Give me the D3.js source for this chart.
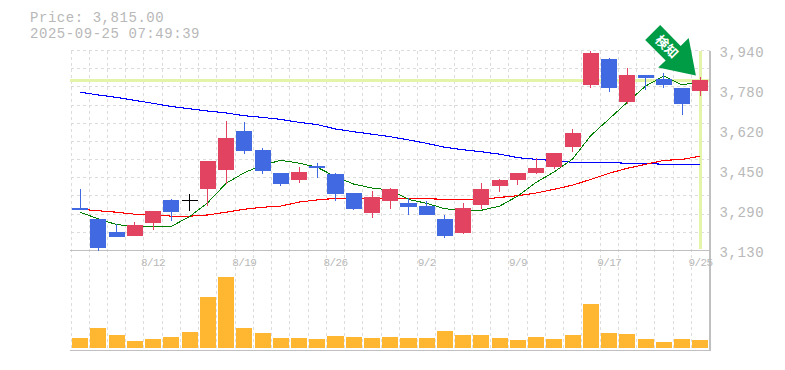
<!DOCTYPE html>
<html>
<head>
<meta charset="utf-8">
<script src="https://d3js.org/d3.v7.min.js"></script>
<style>
    html, body { margin: 0; padding: 0; background: #fff; }
    svg { display: block; }
    text { font-family: "Liberation Mono", monospace; fill: #b8b8b8; }
</style>
</head>
<body>
<div id="chart"></div>
<script>
var dates = ["8/5","8/6","8/7","8/8","8/12","8/13","8/14","8/15","8/18","8/19","8/20","8/21","8/22","8/25","8/26","8/27","8/28","8/29","9/1","9/2","9/3","9/4","9/5","9/8","9/9","9/10","9/11","9/12","9/16","9/17","9/18","9/19","9/22","9/24","9/25"];

var opens  = [3302,3258,3205,3189,3241,3335,3333,3379,3456,3614,3537,3444,3416,3472,3440,3363,3282,3330,3322,3310,3258,3201,3314,3391,3416,3444,3468,3549,3800,3906,3731,3841,3825,3788,3776];
var highs  = [3379,3258,3237,3245,3290,3339,3359,3492,3654,3650,3545,3444,3468,3484,3444,3363,3371,3383,3343,3330,3274,3322,3403,3420,3444,3505,3525,3622,3940,3910,3869,3841,3849,3788,3833];
var lows   = [3294,3130,3185,3189,3214,3249,3291,3310,3399,3521,3440,3391,3403,3424,3330,3294,3262,3298,3274,3274,3181,3197,3298,3367,3395,3440,3460,3529,3788,3772,3723,3780,3788,3679,3756];
var closes = [3294,3140,3185,3233,3290,3286,3333,3492,3586,3533,3452,3399,3448,3464,3359,3298,3347,3379,3306,3274,3189,3302,3379,3416,3444,3464,3525,3606,3930,3788,3841,3829,3800,3723,3821];

var maShort = [3285,3258,3235,3228,3228,3228,3267,3324,3402,3445,3476,3495,3484,3467,3429,3399,3383,3375,3337,3321,3299,3294,3293,3310,3351,3406,3449,3501,3596,3663,3731,3796,3837,3800,3815];
var maMid   = [3297,3291,3285,3277,3275,3269,3269,3274,3285,3297,3305,3310,3326,3335,3341,3341,3341,3341,3340,3340,3337,3337,3337,3345,3352,3363,3378,3395,3418,3443,3463,3479,3495,3499,3512];
var maLong  = [3771,3760,3750,3738,3726,3713,3704,3695,3687,3676,3669,3661,3649,3640,3622,3611,3601,3591,3578,3564,3548,3538,3530,3520,3506,3499,3494,3487,3487,3487,3483,3483,3479,3479,3479];

var volumes = [200,400,260,140,180,220,320,1020,1420,400,300,200,200,180,240,220,200,220,200,200,340,260,260,200,160,220,180,260,880,300,280,180,120,180,160];

var priceTicks = [3940,3778,3616,3454,3292,3130];
var dateTicks = ["8/12","8/19","8/26","9/2","9/9","9/17","9/25"];
var lastPrice = 3818;
var priceLabel = "Price: 3,815.00";
var timeLabel = "2025-09-25 07:49:39";
var arrowLabel = "検知";

const svg_width = 785;
const svg_height = 370;
const left = 71;
const right = 709.5;
const price_top = 50.5;
const price_bottom = 250.5;
const volume_bottom = 348;
const volume_axis = 350.5;

const grid_color = '#dcdcdc';
const axis_color = '#c0c0c0';
const text_color = '#b8b8b8';
const up_color = '#e24360';
const down_color = '#4169e1';

var svg = d3.select('#chart').append('svg')
    .attr('width', svg_width)
    .attr('height', svg_height);

var x = d3.scaleBand()
    .domain(dates)
    .range([left, right])
    .paddingInner(0.12)
    .paddingOuter(0.06);

var y = d3.scaleLinear()
    .domain([3130, 3940])
    .range([price_bottom, price_top]);

// 1px = 20 in the volume panel
var v = d3.scaleLinear()
    .domain([0, 2000])
    .range([volume_bottom, volume_bottom - 100]);

function center(d) {
    return x(d) + x.bandwidth() / 2;
}

// grid
var grid = svg.append('g')
    .attr('stroke', grid_color)
    .attr('stroke-dasharray', '3,3')
    .attr('shape-rendering', 'crispEdges');

grid.selectAll('.h').data(d3.range(12))
    .enter().append('line')
    .attr('x1', left)
    .attr('x2', right)
    .attr('y1', function (i) { return y(3130 + i * 810 / 11); })
    .attr('y2', function (i) { return y(3130 + i * 810 / 11); });

grid.selectAll('.v').data(d3.range(dates.length))
    .enter().append('line')
    .attr('x1', function (i) { return left + i * x.step(); })
    .attr('x2', function (i) { return left + i * x.step(); })
    .attr('y1', price_top)
    .attr('y2', volume_axis);

// current price guides
var guide = svg.append('g')
    .attr('stroke', '#e4f5a9')
    .attr('stroke-width', 3)
    .attr('shape-rendering', 'crispEdges');

guide.append('line')
    .attr('x1', left - 1)
    .attr('x2', right)
    .attr('y1', y(lastPrice))
    .attr('y2', y(lastPrice));

guide.append('line')
    .attr('x1', center(dates[dates.length - 1]))
    .attr('x2', center(dates[dates.length - 1]))
    .attr('y1', price_top)
    .attr('y2', price_bottom - 2);

// frame
var frame = svg.append('g')
    .attr('stroke', axis_color)
    .attr('shape-rendering', 'crispEdges');

frame.append('line').attr('x1', left - 1).attr('x2', right + 1).attr('y1', price_bottom).attr('y2', price_bottom).attr('stroke-width', 1.5);
frame.append('line').attr('x1', left - 1).attr('x2', right + 1).attr('y1', volume_axis).attr('y2', volume_axis).attr('stroke-width', 1.5);
frame.append('line').attr('x1', right + 0.5).attr('x2', right + 0.5).attr('y1', price_top).attr('y2', volume_axis).attr('stroke-width', 1.5);

// moving averages
function drawLine(values, color, width) {
    var line = d3.line()
        .x(function (d, i) { return center(dates[i]); })
        .y(function (d) { return y(d); });

    svg.append('path')
        .datum(values)
        .attr('fill', 'none')
        .attr('stroke', color)
        .attr('stroke-width', width)
        .attr('shape-rendering', 'crispEdges')
        .attr('d', line);
}

drawLine(maLong, '#0000ff', 1.1);
drawLine(maMid, '#ff0000', 1.1);
drawLine(maShort, '#008000', 1);

// candles
function candleColor(i) {
    if (closes[i] > opens[i]) return up_color;
    if (closes[i] < opens[i]) return down_color;
    return '#000000';
}

var candles = svg.append('g').attr('shape-rendering', 'crispEdges');

candles.selectAll('.wick').data(dates)
    .enter().append('line')
    .attr('x1', center)
    .attr('x2', center)
    .attr('y1', function (d, i) { return y(highs[i]); })
    .attr('y2', function (d, i) { return y(lows[i]); })
    .attr('stroke', function (d, i) { return candleColor(i); })
    .attr('stroke-width', 1);

candles.selectAll('.body').data(dates)
    .enter().append('rect')
    .attr('x', function (d) { return x(d); })
    .attr('width', x.bandwidth())
    .attr('y', function (d, i) { return y(Math.max(opens[i], closes[i])); })
    .attr('height', function (d, i) { return Math.max(1, Math.abs(y(opens[i]) - y(closes[i]))); })
    .attr('fill', function (d, i) { return candleColor(i); });

// volume
svg.append('g').attr('shape-rendering', 'crispEdges')
    .selectAll('rect').data(volumes)
    .enter().append('rect')
    .attr('x', function (d, i) { return x(dates[i]); })
    .attr('width', x.bandwidth())
    .attr('y', function (d) { return v(d); })
    .attr('height', function (d) { return volume_bottom - v(d); })
    .attr('fill', '#ffb732');

// axes
var priceAxis = d3.axisRight(y)
    .tickValues(priceTicks)
    .tickSize(0)
    .tickPadding(10)
    .tickFormat(function (d) { return d3.format(',')(Math.round(d / 10) * 10); });

var priceG = svg.append('g')
    .attr('transform', `translate(${right},0)`)
    .call(priceAxis);
priceG.select('.domain').remove();
priceG.selectAll('text')
    .attr('dy', '0.46em')
    .style('font-family', '"Liberation Mono", monospace')
    .style('font-size', '14px')
    .style('letter-spacing', '0.55px')
    .style('fill', text_color);

var dateAxis = d3.axisBottom(x)
    .tickValues(dateTicks)
    .tickSize(0)
    .tickPadding(8);

var dateG = svg.append('g')
    .attr('transform', `translate(0,${price_bottom})`)
    .call(dateAxis);
dateG.select('.domain').remove();
dateG.selectAll('text')
    .style('font-family', '"Liberation Mono", monospace')
    .style('font-size', '11px')
    .style('letter-spacing', '-0.6px')
    .style('fill', text_color);

// price header
svg.append('text')
    .attr('x', 30)
    .attr('y', 22)
    .style('font-size', '14px')
    .style('letter-spacing', '0.55px')
    .text(priceLabel);

svg.append('text')
    .attr('x', 30)
    .attr('y', 38)
    .style('font-size', '14px')
    .style('letter-spacing', '0.55px')
    .text(timeLabel);

// arrow marker
var tipX = center(dates[dates.length - 1]) - 4.5;
var tipY = y(lastPrice) - 5;
var arrowShape = [[-35.7,-50.7],[-50.7,-35.7],[-30.2,-15.2],[-37.7,-8.2],[0,0],[-7.2,-37.7],[-15.2,-29.7]];

var arrow = svg.append('g')
    .attr('transform', `translate(${tipX},${tipY})`);

arrow.append('polygon')
    .attr('points', arrowShape.map(function (p) { return p.join(','); }).join(' '))
    .attr('fill', '#009c45');

arrow.append('text')
    .attr('transform', 'translate(-29,-29) rotate(45)')
    .attr('text-anchor', 'middle')
    .attr('dy', '0.36em')
    .style('font-family', '"Noto Sans CJK JP"')
    .style('font-weight', 'bold')
    .style('font-size', '13px')
    .style('fill', '#ffffff')
    .text(arrowLabel);
</script>
</body>
</html>
